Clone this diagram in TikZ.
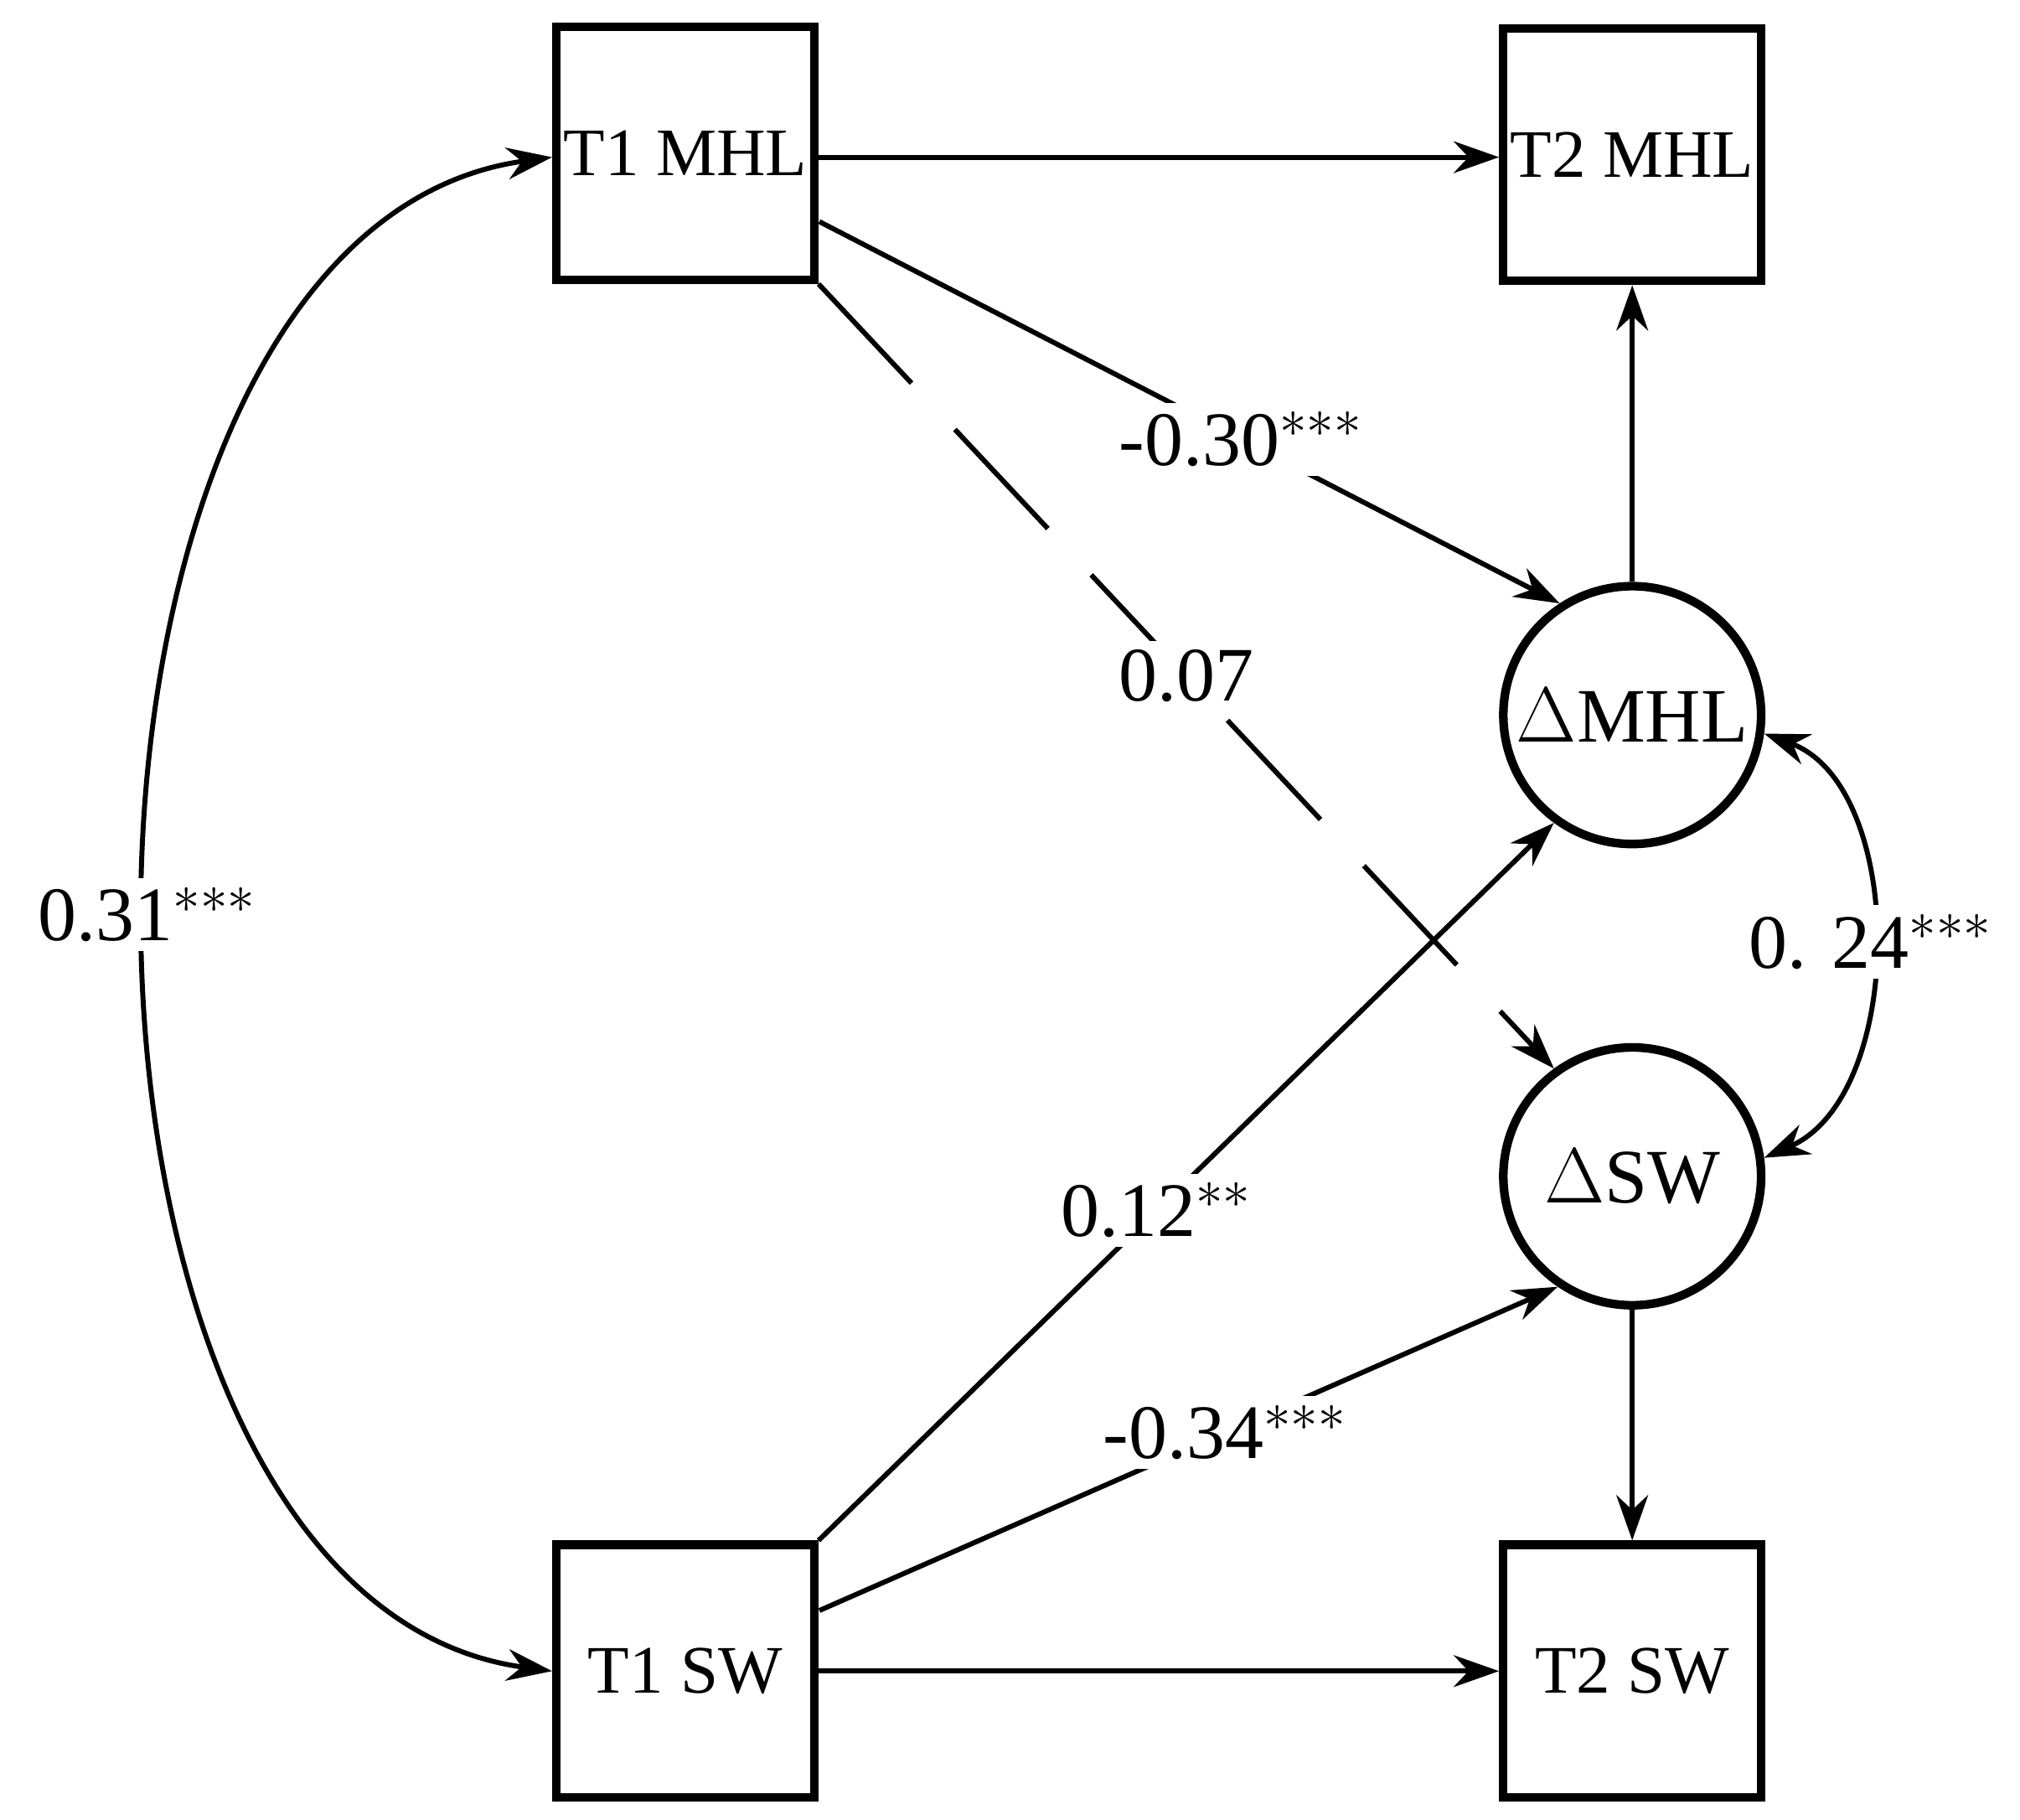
\documentclass[tikz,border=0pt]{standalone}
\usepackage{fontspec}
\setmainfont{Liberation Serif}
\usetikzlibrary{arrows.meta}
\begin{document}
\begin{tikzpicture}[x=0.01cm,y=-0.01cm,
 box/.style={draw,line width=1.9pt,minimum width=2.0cm,minimum height=1.96cm,inner sep=0pt,font=\fontsize{15}{17}\selectfont},
 circ/.style={draw,line width=1.9pt,circle,minimum size=2.0cm,inner sep=0pt,font=\fontsize{17}{19}\selectfont},
 arr/.style={line width=1.1pt,-{Stealth[length=10pt,width=7pt]}},
 lab/.style={fill=white,inner sep=2pt,font=\fontsize{17}{19}\selectfont}]
\useasboundingbox (0,0) rectangle (1568,1412);
\node[box] (t1m) at (532,119) {T1 MHL};
\node[box] (t2m) at (1267,120) {T2 MHL};
\node[box] (t1s) at (532,1297) {T1 SW};
\node[box] (t2s) at (1267,1297) {T2 SW};
\node[circ] (dm) at (1267,555) {$\Delta$MHL};
\node[circ] (ds) at (1267,913) {$\Delta$SW};
\draw[arr] (t1m.east|-0,122) -- (t2m.west|-0,122);
\draw[arr] (t1s) -- (t2s);
\draw[arr] (dm) -- (t2m);
\draw[arr] (ds) -- (t2s);
\coordinate (a1) at (636,172);
\coordinate (a2) at (636,1250);
\draw[arr] (a1) -- node[lab,pos=0.57]{-0.30$^{***}$} (dm.123);
\draw[arr,dash pattern=on 30pt off 14pt] (t1m.south east) -- node[lab,pos=0.5]{0.07} (ds.126);
\draw[arr] (t1s.north east) -- node[lab,pos=0.46]{0.12$^{**}$} (dm.234);
\draw[arr] (a2) -- node[lab,pos=0.55]{-0.34$^{***}$} (ds.236);
\draw[arr,{Stealth[length=10pt,width=7pt]}-{Stealth[length=10pt,width=7pt]}] (t1m.west|-0,122) .. controls (10,180) and (10,1240) .. node[lab,pos=0.5]{0.31$^{***}$} (t1s.west|-0,1297);
\draw[arr,{Stealth[length=10pt,width=7pt]}-{Stealth[length=10pt,width=7pt]}] (dm.-8) .. controls (1480,610) and (1480,850) .. node[lab,pos=0.5]{0. 24$^{***}$} (ds.8);
\end{tikzpicture}
\end{document}
